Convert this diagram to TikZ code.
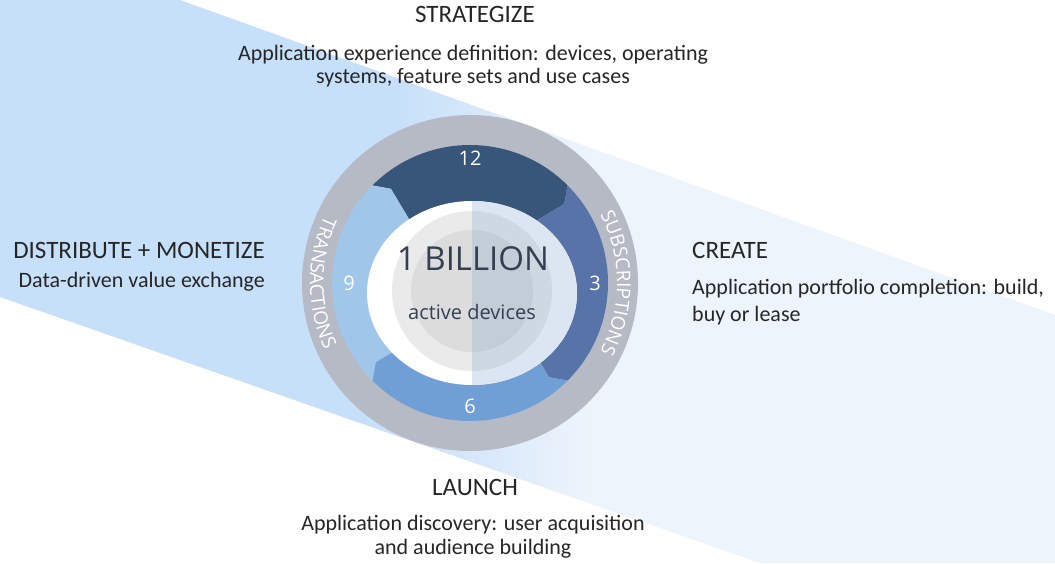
\documentclass[tikz,border=0pt]{standalone}
\usepackage{fontspec}
\setmainfont{Carlito}
\newfontfamily\ringfont{Open Sans}
\usetikzlibrary{decorations.text}

\definecolor{bandL}{RGB}{199,224,249}
\definecolor{bandR}{RGB}{238,244,252}
\definecolor{ringgray}{RGB}{182,186,197}
\definecolor{segA}{RGB}{56,85,122}
\definecolor{segB}{RGB}{87,115,168}
\definecolor{segC}{RGB}{112,159,214}
\definecolor{segD}{RGB}{160,198,234}
\definecolor{discR}{RGB}{220,230,242}
\definecolor{coreLa}{RGB}{234,234,234}
\definecolor{coreLb}{RGB}{220,220,220}
\definecolor{coreRa}{RGB}{206,216,227}
\definecolor{coreRb}{RGB}{195,205,216}
\definecolor{txt}{RGB}{38,38,38}
\definecolor{coretxt}{RGB}{52,64,82}

\tikzset{
  phase/.style={font=\fontsize{25}{27}\selectfont, text=txt, inner sep=0pt},
  blurb/.style={font=\fontsize{22}{23}\selectfont, text=txt, inner sep=0pt, align=center},
  segnum/.style={font=\ringfont\fontsize{20}{20}\selectfont, text=white, inner sep=0pt},
  ringlabel/.style={decorate, decoration={text along path, text align=center,
      text={|\ringfont\fontsize{19}{19}\selectfont\color{white}|#1}}}
}

% one arrow of the cycle: start angle, end angle, colour
\newcommand{\cyclearrow}[3]{%
  \fill[#3] (#1:138) arc[start angle=#1, end angle=#2, radius=138] -- ({#2-5}:123)
    -- (#2:80) arc[start angle=#2, end angle=#1, radius=80] -- ({#1-5}:123) -- cycle;}

\begin{document}
\begin{tikzpicture}[x=1pt, y=1pt]

\useasboundingbox (0,0) rectangle (1055,563);
\fill[white] (0,0) rectangle (1055,563);

% light band behind the wheel
\begin{scope}
  \clip (180,563) -- (1055,248) -- (1055,0) -- (760,0) -- (0,266) -- (0,563) -- cycle;
  \fill[bandL] (0,0) rectangle (400,563);
  \shade[left color=bandL, right color=bandR] (400,0) rectangle (590,563);
  \fill[bandR] (590,0) rectangle (1055,563);
\end{scope}

% wheel
\begin{scope}[shift={(470,280)}]
  \fill[ringgray] (0,0) circle (168);
  \cyclearrow{135}{45}{segA}
  \cyclearrow{45}{-45}{segB}
  \cyclearrow{-45}{-135}{segC}
  \cyclearrow{225}{135}{segD}

  \node[segnum] (n12) at (90:125) {12};
  \node[segnum] (n3) at (0:125) {3};
  \node[segnum] (n6) at (-90:123) {6};
  \node[segnum] (n9) at (180:121) {9};

  \path[ringlabel=TRANSACTIONS] (148:160) arc[start angle=148, end angle=212, radius=160];
  \path[ringlabel=SUBSCRIPTIONS] (36:147) arc[start angle=36, end angle=-36, radius=147];
\end{scope}

% hub
\fill[white] (472,270) ellipse [x radius=105, y radius=92];
\fill[coreLa] (472,272) circle (80);
\fill[coreLb] (472,272) circle (61);
\begin{scope}
  \clip (472,0) rectangle (1055,563);
  \fill[discR] (472,270) ellipse [x radius=105, y radius=92];
  \fill[coreRa] (472,272) circle (80);
  \fill[coreRb] (472,272) circle (61);
\end{scope}
\node[font=\ringfont\fontsize{33}{33}\selectfont, text=coretxt, inner sep=0pt] (billion) at (473,304) {1 BILLION};
\node[font=\ringfont\fontsize{20}{20}\selectfont, text=coretxt, inner sep=0pt] (devices) at (472,251) {active devices};

% phases
\node[phase, anchor=base] (strat) at (475,540) {STRATEGIZE};
\node[blurb, anchor=base] (stratTxt) at (473,479) {Application experience definition: devices, operating\\systems, feature sets and use cases};

\node[phase, anchor=base east] (dist) at (265,304) {DISTRIBUTE + MONETIZE};
\node[blurb, anchor=base east] (distTxt) at (265,275) {Data-driven value exchange};

\node[phase, anchor=base west] (create) at (692,304) {CREATE};
\node[blurb, anchor=base west, align=left, font=\fontsize{22}{27}\selectfont] (createTxt) at (692,241) {Application portfolio completion: build,\\buy or lease};

\node[phase, anchor=base] (launch) at (475,68) {LAUNCH};
\node[blurb, anchor=base, font=\fontsize{22}{24}\selectfont] (launchTxt) at (473,9) {Application discovery: user acquisition\\and audience building};

\end{tikzpicture}
\end{document}
